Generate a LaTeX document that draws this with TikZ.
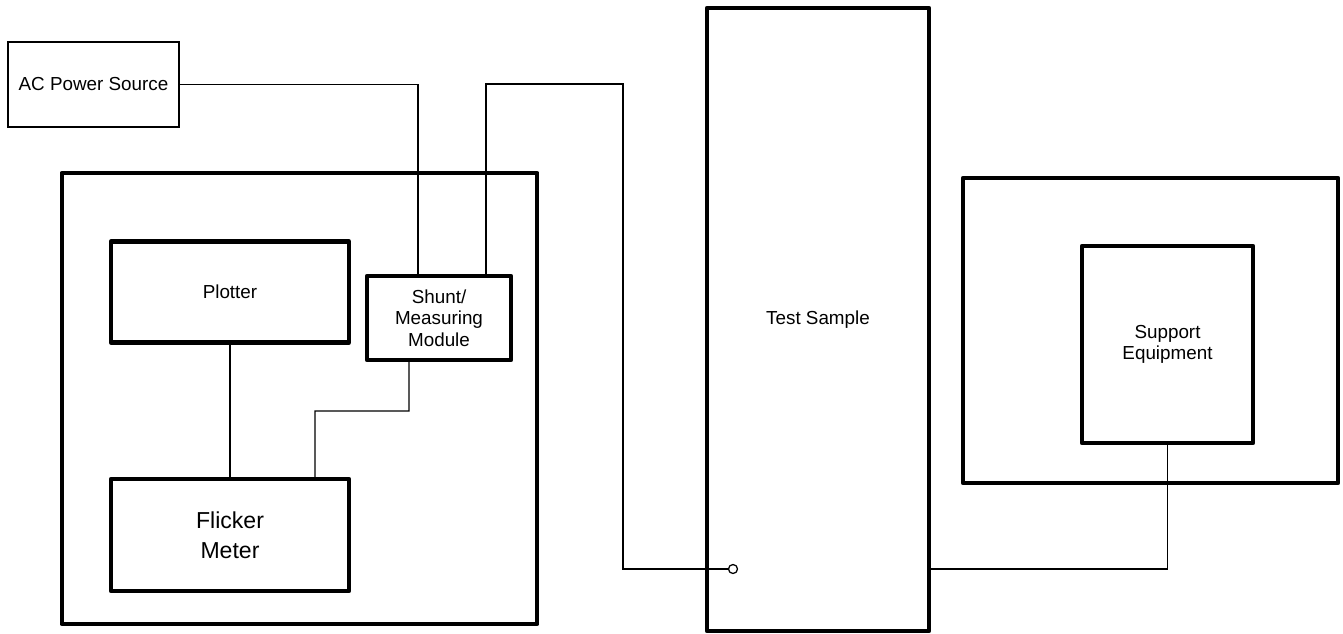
\documentclass[tikz,border=0pt]{standalone}
\usepackage{fontspec}
\setmainfont{Liberation Sans}
\usetikzlibrary{arrows.meta}
\tikzset{>=Stealth,every node/.style={font=\fontsize{13.4}{15.4}\selectfont,align=center},
 unit/.style={draw,line width=3pt,line join=round,inner sep=0pt},
 frame/.style={draw,line width=1pt,inner sep=0pt},
 wire/.style={line width=.9pt},big/.style={font=\fontsize{16.4}{21.3}\selectfont}}

\begin{document}
\begin{tikzpicture}[x=.025cm,y=-.025cm]
\useasboundingbox (0,0) rectangle (1343,633);
\node[frame,minimum width=4.275cm,minimum height=2.125cm] (ac) at (93.5,84.5) {AC Power Source};
\node[unit,minimum width=11.89cm,minimum height=11.275cm] (rack) at (299.5,398.5) {};
\node[unit,minimum width=5.95cm,minimum height=2.525cm] (plotter) at (230,292) {Plotter};
\node[unit,minimum width=3.6cm,minimum height=2.1cm] (shunt) at (439,318) {Shunt/\\Measuring\\Module};
\node[unit,big,minimum width=5.95cm,minimum height=2.8cm] (flicker) at (230,535) {Flicker\\Meter};
\node[unit,minimum width=5.55cm,minimum height=15.575cm] (test) at (818,319.5) {Test Sample};
\node[unit,minimum width=9.375cm,minimum height=7.625cm] (bench) at (1150.5,330.5) {};
\node[unit,minimum width=4.275cm,minimum height=4.925cm] (support) at (1167.5,344.5) {Support\\Equipment};
\node[circle,draw,line width=.9pt,fill=white,inner sep=0pt,minimum size=.225cm] (port) at (733,569) {};
\coordinate (bend) at (623,84);\coordinate (jog) at (315,411);
\draw[wire] (ac.east) -| ([xshift=-.525cm]shunt.north);
\draw[wire] ([xshift=1.175cm]shunt.north) |- (bend) |- (port.west);
\draw[wire] ([xshift=-.75cm]shunt.south) |- (jog) -- ([xshift=2.125cm]flicker.north);
\draw[wire] (plotter.south) -- (flicker.north);
\draw[wire] (test.east |- port) -| (support.south);
\end{tikzpicture}
\end{document}
